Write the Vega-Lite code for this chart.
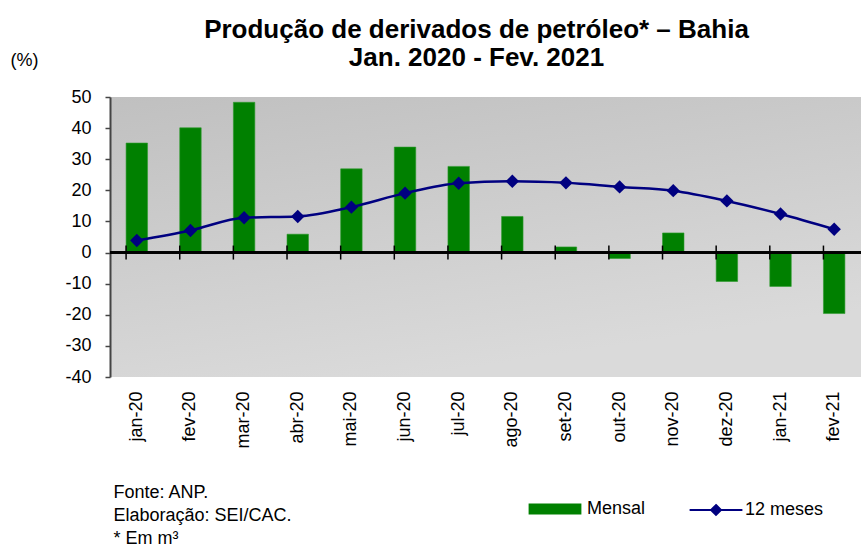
{
  "$schema": "https://vega.github.io/schema/vega-lite/v6.json",
  "autosize": {"type": "none"},
  "width": 751,
  "height": 280,
  "padding": {"left": 110, "top": 97, "right": 0, "bottom": 170},
  "background": "white",
  "view": {
    "stroke": null,
    "fill": {"gradient": "linear", "x1": 0, "y1": 0, "x2": 0.4, "y2": 1,
      "stops": [{"offset": 0, "color": "#c0c0c0"}, {"offset": 1, "color": "#dadada"}]}
  },
  "config": {
    "font": "Liberation Sans",
    "axis": {"labelFont": "Liberation Sans", "titleFont": "Liberation Sans", "labelColor": "black", "titleColor": "black", "grid": false}
  },
  "title": {
    "text": ["Produção de derivados de petróleo* – Bahia", "Jan. 2020 - Fev. 2021"],
    "font": "Liberation Sans",
    "fontSize": 26,
    "fontWeight": "bold",
    "color": "black",
    "anchor": "middle",
    "lineHeight": 28,
    "offset": -20,
    "dx": -9
  },
  "data": {"values": [
    {"month": "jan-20", "Mensal": 35.2, "12 meses": 3.9},
    {"month": "fev-20", "Mensal": 40.1, "12 meses": 7.1},
    {"month": "mar-20", "Mensal": 48.3, "12 meses": 11.2},
    {"month": "abr-20", "Mensal": 5.9, "12 meses": 11.6},
    {"month": "mai-20", "Mensal": 26.9, "12 meses": 14.6},
    {"month": "jun-20", "Mensal": 33.9, "12 meses": 19.1},
    {"month": "jul-20", "Mensal": 27.7, "12 meses": 22.3},
    {"month": "ago-20", "Mensal": 11.6, "12 meses": 22.9},
    {"month": "set-20", "Mensal": 1.8, "12 meses": 22.4},
    {"month": "out-20", "Mensal": -1.9, "12 meses": 21.1},
    {"month": "nov-20", "Mensal": 6.3, "12 meses": 19.9},
    {"month": "dez-20", "Mensal": -9.3, "12 meses": 16.6},
    {"month": "jan-21", "Mensal": -10.9, "12 meses": 12.4},
    {"month": "fev-21", "Mensal": -19.6, "12 meses": 7.5}
  ]},
  "layer": [
    {
      "transform": [{"fold": ["Mensal"], "as": ["serie", "value"]}],
      "mark": {"type": "bar", "stroke": "#2e9a2e", "strokeWidth": 0.6},
      "encoding": {
        "x": {"field": "month", "type": "nominal", "sort": null,
          "scale": {"paddingInner": 0.6, "paddingOuter": 0.3},
          "axis": {
            "orient": "bottom", "labelAngle": 270, "labelAlign": "right", "labelBaseline": "middle",
            "labelPadding": 14, "labelFontSize": 18, "domain": false, "ticks": false,
            "title": ["Fonte: ANP.", "Elaboração: SEI/CAC.", "* Em m³"],
            "titleX": 3, "titleY": 120, "titleAlign": "left", "titleAnchor": "start", "titleAngle": 0,
            "titleBaseline": "alphabetic", "titleLineHeight": 23, "titleFontSize": 18, "titleFontWeight": "normal"
          }},
        "y": {"field": "value", "type": "quantitative",
          "scale": {"domain": [-40, 50], "nice": false, "zero": false},
          "axis": {
            "values": [-40, -30, -20, -10, 0, 10, 20, 30, 40, 50],
            "labelExpr": "datum.value + ''", "labelOverlap": false,
            "labelFontSize": 18, "labelPadding": 14, "tickSize": 5, "tickColor": "#444", "tickWidth": 1.5,
            "domainColor": "#444", "domainWidth": 2,
            "title": "(%)", "titleAngle": 0, "titleX": -100, "titleY": -37, "titleAlign": "left",
            "titleBaseline": "middle", "titleFontSize": 18, "titleFontWeight": "normal"
          }},
        "fill": {"field": "serie", "type": "nominal",
          "scale": {"domain": ["Mensal"], "range": ["#008000"]},
          "legend": {
            "orient": "none", "legendX": 434, "legendY": 401, "title": null,
            "symbolType": "M-2.4,-0.5H2.4V0.5H-2.4Z", "symbolSize": 484, "symbolStrokeWidth": 0,
            "labelFontSize": 18, "labelFont": "Liberation Sans", "labelColor": "black", "labelOffset": 21
          }}
      }
    },
    {
      "mark": {"type": "rule", "color": "black", "strokeWidth": 1.5},
      "encoding": {"y": {"datum": 0, "type": "quantitative",
          "axis": {
            "values": [-40, -30, -20, -10, 0, 10, 20, 30, 40, 50],
            "labelExpr": "datum.value + ''", "labelOverlap": false,
            "labelFontSize": 18, "labelPadding": 14, "tickSize": 5, "tickColor": "#444", "tickWidth": 1.5,
            "domainColor": "#444", "domainWidth": 2,
            "title": "(%)", "titleAngle": 0, "titleX": -100, "titleY": -37, "titleAlign": "left",
            "titleBaseline": "middle", "titleFontSize": 18, "titleFontWeight": "normal"
          }}}
    },
    {
      "mark": {"type": "tick", "orient": "vertical", "color": "black", "size": 14, "thickness": 1.5, "opacity": 1},
      "encoding": {
        "x": {"field": "month", "type": "nominal", "sort": null, "bandPosition": 0},
        "y": {"datum": 0, "type": "quantitative",
          "axis": {
            "values": [-40, -30, -20, -10, 0, 10, 20, 30, 40, 50],
            "labelExpr": "datum.value + ''", "labelOverlap": false,
            "labelFontSize": 18, "labelPadding": 14, "tickSize": 5, "tickColor": "#444", "tickWidth": 1.5,
            "domainColor": "#444", "domainWidth": 2,
            "title": "(%)", "titleAngle": 0, "titleX": -100, "titleY": -37, "titleAlign": "left",
            "titleBaseline": "middle", "titleFontSize": 18, "titleFontWeight": "normal"
          }}
      }
    },
    {
      "transform": [{"fold": ["12 meses"], "as": ["serie", "value"]}],
      "mark": {"type": "line", "interpolate": "monotone", "strokeWidth": 2.5},
      "encoding": {
        "x": {"field": "month", "type": "nominal", "sort": null},
        "y": {"field": "value", "type": "quantitative",
          "axis": {
            "values": [-40, -30, -20, -10, 0, 10, 20, 30, 40, 50],
            "labelExpr": "datum.value + ''", "labelOverlap": false,
            "labelFontSize": 18, "labelPadding": 14, "tickSize": 5, "tickColor": "#444", "tickWidth": 1.5,
            "domainColor": "#444", "domainWidth": 2,
            "title": "(%)", "titleAngle": 0, "titleX": -100, "titleY": -37, "titleAlign": "left",
            "titleBaseline": "middle", "titleFontSize": 18, "titleFontWeight": "normal"
          }},
        "stroke": {"field": "serie", "type": "nominal",
          "scale": {"domain": ["12 meses"], "range": ["#000080"]},
          "legend": {
            "orient": "none", "legendX": 594, "legendY": 401, "title": null,
            "symbolType": "M-2.4,0H2.4M0,-0.45L0.45,0L0,0.45L-0.45,0Z", "symbolSize": 484,
            "symbolStrokeWidth": 2, "symbolFillColor": "#000080",
            "labelFontSize": 18, "labelFont": "Liberation Sans", "labelColor": "black", "labelOffset": 17
          }}
      }
    },
    {
      "transform": [{"fold": ["12 meses"], "as": ["serie", "value"]}],
      "mark": {"type": "point", "shape": "diamond", "filled": true, "color": "#000080", "size": 180, "opacity": 1},
      "encoding": {
        "x": {"field": "month", "type": "nominal", "sort": null},
        "y": {"field": "value", "type": "quantitative",
          "axis": {
            "values": [-40, -30, -20, -10, 0, 10, 20, 30, 40, 50],
            "labelExpr": "datum.value + ''", "labelOverlap": false,
            "labelFontSize": 18, "labelPadding": 14, "tickSize": 5, "tickColor": "#444", "tickWidth": 1.5,
            "domainColor": "#444", "domainWidth": 2,
            "title": "(%)", "titleAngle": 0, "titleX": -100, "titleY": -37, "titleAlign": "left",
            "titleBaseline": "middle", "titleFontSize": 18, "titleFontWeight": "normal"
          }}
      }
    }
  ]
}
